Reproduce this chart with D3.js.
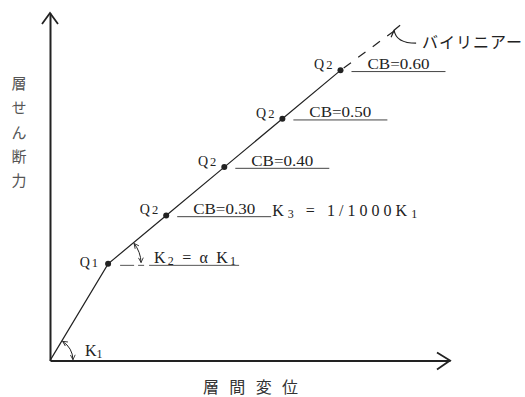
<!DOCTYPE html>
<html>
<head>
<meta charset="utf-8">
<script src="https://cdn.jsdelivr.net/npm/d3@7"></script>
<style>
  body { margin: 0; background: #fff; }
  svg { display: block; }
</style>
</head>
<body>
<svg width="525" height="397"></svg>
<script>
const svg = d3.select('svg');

// interstory drift (arbitrary units) and base shear coefficient
const driftX = [0, 1, 2, 3, 4, 5];
const shearCB = [0, 0.2, 0.3, 0.4, 0.5, 0.6];
const pointLabels = ['', 'Q1', 'Q2', 'Q2', 'Q2', 'Q2'];
const cbLabels = ['CB=0.30', 'CB=0.40', 'CB=0.50', 'CB=0.60'];
// dashed bilinear extension beyond the last Q2
const extendX = [5, 5.94];
const extendY = [0.6, 0.683];

const serif = '"Liberation Serif", "DejaVu Serif", serif';
const cjk = '"Noto Sans CJK JP", sans-serif';
const ink = '#222';

const x = d3.scaleLinear().domain([0, 6.885]).range([50, 450]);
const y = d3.scaleLinear().domain([0, 0.7186]).range([360.6, 13]);

const pts = driftX.map((d, i) => ({x: d, y: shearCB[i], label: pointLabels[i]}));

// arrow markers for the angle arcs
const defs = svg.append('defs');
defs.append('marker')
    .attr('id', 'tip')
    .attr('viewBox', '0 0 10 10')
    .attr('refX', 9).attr('refY', 5)
    .attr('markerWidth', 6).attr('markerHeight', 6)
    .attr('markerUnits', 'userSpaceOnUse')
    .attr('orient', 'auto-start-reverse')
    .append('path')
    .attr('d', 'M1,1L9,5L1,9')
    .attr('fill', 'none')
    .attr('stroke', ink)
    .attr('stroke-width', 1.4);

///////////////////////////// axes
const ox = x(0), oy = y(0);
svg.append('g')
    .attr('transform', `translate(0,${oy})`)
    .call(d3.axisBottom(x).tickValues([]).tickSizeOuter(0))
    .select('.domain').attr('stroke', ink).attr('stroke-width', 2);
svg.append('g')
    .attr('transform', `translate(${ox},0)`)
    .call(d3.axisLeft(y).tickValues([]).tickSizeOuter(0))
    .select('.domain').attr('stroke', ink).attr('stroke-width', 2);

// axis arrowheads
const xEnd = x.range()[1], yEnd = y.range()[1];
svg.append('path')
    .attr('d', `M${xEnd - 13},${oy - 8}L${xEnd},${oy}L${xEnd - 13},${oy + 9}`)
    .attr('fill', 'none').attr('stroke', ink).attr('stroke-width', 1.8);
svg.append('path')
    .attr('d', `M${ox - 8},${yEnd + 11}L${ox},${yEnd}L${ox + 8},${yEnd + 11}`)
    .attr('fill', 'none').attr('stroke', ink).attr('stroke-width', 1.8);

// axis titles
const yTitle = ['層', 'せ', 'ん', '断', '力'];
svg.append('g').selectAll('text')
    .data(yTitle)
    .enter().append('text')
    .attr('x', 19)
    .attr('y', (d, i) => 89 + i * 24.3)
    .attr('text-anchor', 'middle')
    .attr('font-family', cjk)
    .attr('font-size', 15)
    .attr('fill', '#555')
    .text(d => d);

svg.append('text')
    .attr('x', 203).attr('y', 393)
    .attr('font-family', cjk)
    .attr('font-size', 16)
    .attr('fill', '#333')
    .attr('textLength', 95)
    .attr('lengthAdjust', 'spacing')
    .text('層間変位');

///////////////////////////// curve
const line = d3.line().x(d => x(d.x)).y(d => y(d.y));
svg.append('path')
    .datum(pts)
    .attr('d', line)
    .attr('fill', 'none')
    .attr('stroke', ink)
    .attr('stroke-width', 1.2);

svg.append('path')
    .datum(extendX.map((d, i) => ({x: d, y: extendY[i]})))
    .attr('d', line)
    .attr('fill', 'none')
    .attr('stroke', ink)
    .attr('stroke-width', 1.2)
    .attr('stroke-dasharray', '9 9')
    .attr('stroke-dashoffset', -4);

const marked = pts.filter(d => d.label);
svg.append('g').selectAll('circle')
    .data(marked)
    .enter().append('circle')
    .attr('cx', d => x(d.x))
    .attr('cy', d => y(d.y))
    .attr('r', 3)
    .attr('fill', ink);

// Q labels
const qLab = svg.append('g').selectAll('text')
    .data(marked)
    .enter().append('text')
    .attr('x', d => x(d.x) - (d.label === 'Q1' ? 10 : 8))
    .attr('y', d => y(d.y) + (d.label === 'Q1' ? 3 : -1))
    .attr('text-anchor', 'end')
    .attr('font-family', serif)
    .attr('font-size', 14)
    .attr('fill', ink);
qLab.append('tspan').text(d => d.label[0]);
qLab.append('tspan').attr('dx', 2).attr('font-size', 12.5).text(d => d.label.slice(1));

// CB labels with underlines
const q2 = marked.filter(d => d.label === 'Q2');
svg.append('g').selectAll('line')
    .data(q2)
    .enter().append('line')
    .attr('x1', d => x(d.x) + 11)
    .attr('x2', d => x(d.x) + 105)
    .attr('y1', d => y(d.y) + 1.2)
    .attr('y2', d => y(d.y) + 1.2)
    .attr('stroke', '#444')
    .attr('stroke-width', 1);
svg.append('g').selectAll('text')
    .data(q2)
    .enter().append('text')
    .attr('x', d => x(d.x) + 27)
    .attr('y', d => y(d.y) - 1.5)
    .attr('font-family', serif)
    .attr('font-size', 15)
    .attr('fill', ink)
    .attr('textLength', 62)
    .attr('lengthAdjust', 'spacingAndGlyphs')
    .text((d, i) => cbLabels[i]);

///////////////////////////// stiffness annotations
const q1 = pts[1];
const q1x = x(q1.x), q1y = y(q1.y);
const slope2 = Math.atan2(y(pts[2].y) - q1y, x(pts[2].x) - q1x);
const slope1 = Math.atan2(q1y - oy, q1x - ox);

const arc2 = d3.path();
arc2.arc(q1x, q1y, 33, slope2 + 0.03, -0.04);
svg.append('path')
    .attr('d', arc2.toString())
    .attr('fill', 'none').attr('stroke', ink).attr('stroke-width', 1)
    .attr('marker-start', 'url(#tip)').attr('marker-end', 'url(#tip)');

const arc1 = d3.path();
arc1.arc(ox, oy, 23, slope1 + 0.04, -0.04);
svg.append('path')
    .attr('d', arc1.toString())
    .attr('fill', 'none').attr('stroke', ink).attr('stroke-width', 1)
    .attr('marker-start', 'url(#tip)').attr('marker-end', 'url(#tip)');

// horizontal reference under K2
svg.append('line')
    .attr('x1', q1x + 12).attr('x2', q1x + 131)
    .attr('y1', q1y + 1.5).attr('y2', q1y + 1.5)
    .attr('stroke', '#555').attr('stroke-width', 1)
    .attr('stroke-dasharray', '14 4 6 5 200');

const k2 = svg.append('text')
    .attr('x', q1x + 46).attr('y', q1y - 0.5)
    .attr('font-family', serif)
    .attr('font-size', 16)
    .attr('fill', ink)
    .attr('textLength', 82)
    .attr('lengthAdjust', 'spacing');
k2.append('tspan').text('K');
k2.append('tspan').attr('font-size', 12).attr('dy', 2).text('2');
k2.append('tspan').attr('dy', -2).text(' = α K');
k2.append('tspan').attr('font-size', 12).attr('dy', 2).text('1');

const k1 = svg.append('text')
    .attr('x', ox + 35).attr('y', oy - 5)
    .attr('font-family', serif)
    .attr('font-size', 16)
    .attr('fill', ink);
k1.append('tspan').text('K');
k1.append('tspan').attr('font-size', 12).attr('dy', 2).text('1');

const p2 = pts[2];
const k3 = svg.append('text')
    .attr('x', x(p2.x) + 106).attr('y', y(p2.y) + 0.5)
    .attr('font-family', serif)
    .attr('font-size', 16)
    .attr('fill', ink)
    .attr('textLength', 145)
    .attr('lengthAdjust', 'spacing');
k3.append('tspan').text('K');
k3.append('tspan').attr('font-size', 12).attr('dy', 2).text('3');
k3.append('tspan').attr('dy', -2).text(' = 1/1000K');
k3.append('tspan').attr('font-size', 12).attr('dy', 2).text('1');

///////////////////////////// bilinear note
const ex = x(extendX[1]), ey = y(extendY[1]);
svg.append('path')
    .attr('d', `M${ex - 1},${ey}Q${ex + 1},${ey + 13} ${ex + 21},${ey + 13}`)
    .attr('fill', 'none').attr('stroke', ink).attr('stroke-width', 1.2);
svg.append('path')
    .attr('d', `M${ex - 4},${ey + 7}L${ex - 1},${ey}L${ex + 5},${ey - 5}`)
    .attr('fill', 'none').attr('stroke', ink).attr('stroke-width', 1.2);
svg.append('text')
    .attr('x', ex + 27).attr('y', ey + 18)
    .attr('font-family', cjk)
    .attr('font-size', 16)
    .attr('fill', ink)
    .attr('textLength', 100)
    .attr('lengthAdjust', 'spacing')
    .text('バイリニアー');
</script>
</body>
</html>
